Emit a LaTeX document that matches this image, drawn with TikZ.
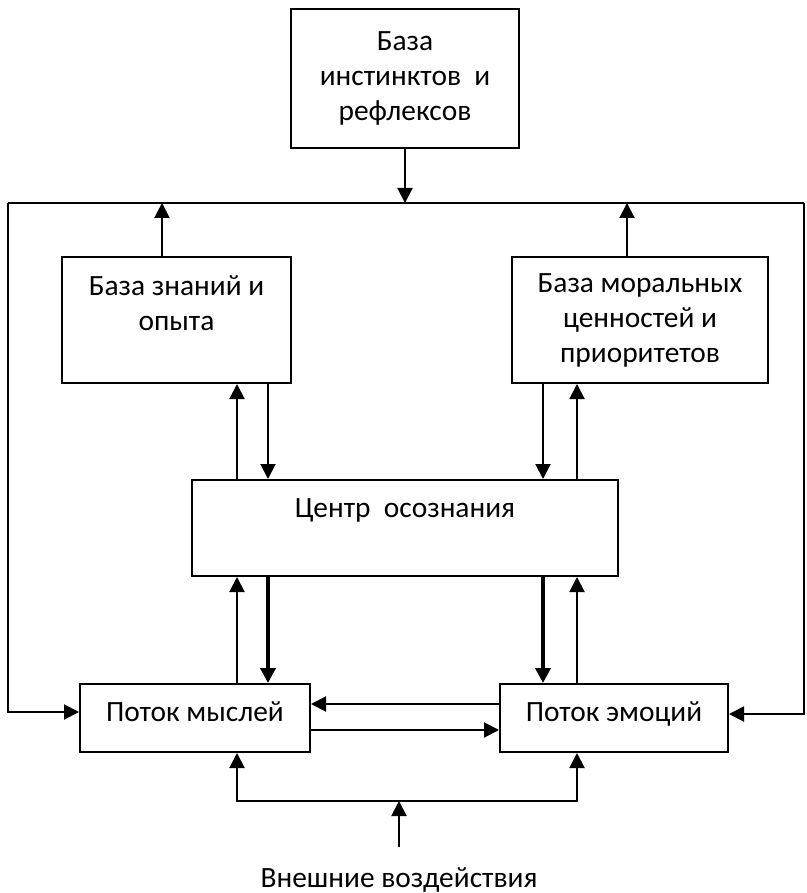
\documentclass[tikz,border=0pt]{standalone}
\usepackage{fontspec}
\setmainfont{Carlito}
\usetikzlibrary{arrows.meta}
\begin{document}
\begin{tikzpicture}[x=0.5pt,y=-0.5pt,
  box/.style={draw,line width=1pt,align=center,inner sep=0pt,font=\fontsize{14.7}{17.5}\selectfont},
  arr/.style={line width=1pt,-{Triangle[length=7.5pt,width=7.5pt]}},
  arrb/.style={arr,line width=2pt},
  ln/.style={line width=1pt}]
\useasboundingbox (0,0) rectangle (807,893);
\node[box,minimum width=114pt,minimum height=69.5pt] (inst) at (405,78.5) {База\\инстинктов~~и\\рефлексов};
\node[box,minimum width=114.5pt,minimum height=63pt,text depth=17pt] (know) at (176.5,320) {База знаний и\\опыта};
\node[box,minimum width=128pt,minimum height=63pt] (moral) at (640,320) {База моральных\\ценностей и\\приоритетов};
\node[box,minimum width=213pt,minimum height=48pt,text depth=20pt] (cent) at (405,528) {Центр~~осознания};
\node[box,minimum width=115pt,minimum height=34pt,text depth=6pt] (think) at (195,718) {Поток мыслей};
\node[box,minimum width=114pt,minimum height=34pt,text depth=6pt] (emo) at (614,718) {Поток эмоций};
\node[font=\fontsize{14.7}{17.5}\selectfont,inner sep=0pt] (ext) at (399,880) {Внешние воздействия};
\coordinate (tl) at (8,203);
\coordinate (tr) at (804,203);
\coordinate (ti) at (405,203);
\coordinate (ein) at (399,847);
\coordinate (jb) at (399,801);
% outer loop
\draw[arr] (inst.south) -- (ti);
\draw[ln] (tl) -- (tr);
\draw[arr] (tl) -- (8,712) -- (think.west |- 0,712);
\draw[arr] (tr) -- (804,714) -- (emo.east |- 0,714);
\draw[arr] (know.north -| 162,0) -- (162,203);
\draw[arr] (moral.north -| 627,0) -- (627,203);
% bases and centre
\draw[arr] (cent.north -| 237,0) -- (know.south -| 237,0);
\draw[arr] (know.south -| 268,0) -- (cent.north -| 268,0);
\draw[arr] (moral.south -| 543,0) -- (cent.north -| 543,0);
\draw[arr] (cent.north -| 577,0) -- (moral.south -| 577,0);
% centre and streams
\draw[arr] (think.north -| 237,0) -- (cent.south -| 237,0);
\draw[arrb] (cent.south -| 268,0) -- (think.north -| 268,0);
\draw[arrb] (cent.south -| 543,0) -- (emo.north -| 543,0);
\draw[arr] (emo.north -| 577,0) -- (cent.south -| 577,0);
\draw[arr] (emo.west |- 0,704) -- (think.east |- 0,704);
\draw[arr] (think.east |- 0,730) -- (emo.west |- 0,730);
% outer influences
\draw[arr] (ein) -- (jb);
\draw[arr] (jb) -| (think.south -| 237,0);
\draw[arr] (jb) -| (emo.south -| 577,0);
\end{tikzpicture}
\end{document}
